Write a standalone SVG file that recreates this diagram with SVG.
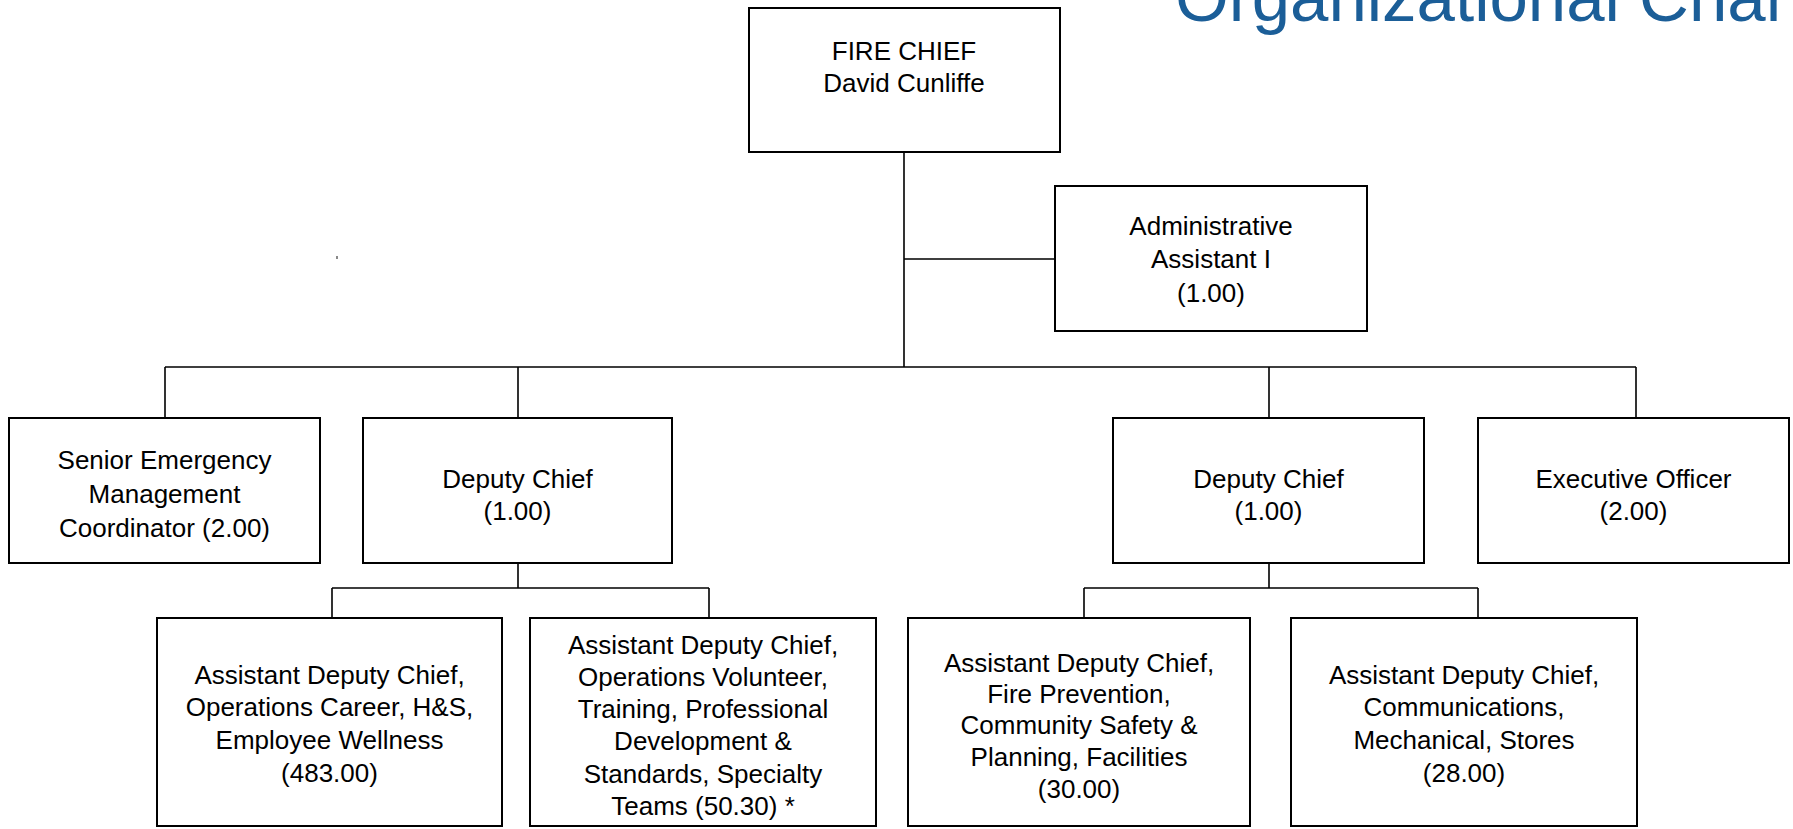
<svg xmlns="http://www.w3.org/2000/svg" width="1793" height="829" viewBox="0 0 1793 829">
<style>
.box{fill:#fff;stroke:#000;stroke-width:2}
.t{font-family:"Liberation Sans",Arial,sans-serif;font-size:26px;fill:#000;text-anchor:middle}
.c{fill:none;stroke:#000;stroke-width:1.6}
.title{font-family:"Liberation Sans",Arial,sans-serif;font-size:69px;fill:#1b5e98}
</style>
<rect width="1793" height="829" fill="#fff"/>
<text class="title" x="1175" y="21">Organizational Chart</text>
<rect x="336" y="256" width="2" height="3" fill="#8a8a8a"/>
<g id="connectors">
<path class="c" d="M904 152V367M904 259H1055M165 367H1636M165 367V418M518 367V418M1269 367V418M1636 367V418M518 563V588M332 588H709M332 588V618M709 588V618M1269 563V588M1084 588H1478M1084 588V618M1478 588V618"/>
</g>
<g id="fire-chief">
<rect class="box" x="749" y="8" width="311" height="144"/>
<text class="t" x="904" y="60">FIRE CHIEF</text>
<text class="t" x="904" y="92">David Cunliffe</text>
</g>
<g id="admin-assistant">
<rect class="box" x="1055" y="186" width="312" height="145"/>
<text class="t" x="1211" y="235">Administrative</text>
<text class="t" x="1211" y="268">Assistant I</text>
<text class="t" x="1211" y="302">(1.00)</text>
</g>
<g id="senior-emergency">
<rect class="box" x="9" y="418" width="311" height="145"/>
<text class="t" x="164.5" y="469">Senior Emergency</text>
<text class="t" x="164.5" y="503">Management</text>
<text class="t" x="164.5" y="537">Coordinator (2.00)</text>
</g>
<g id="deputy-chief-left">
<rect class="box" x="363" y="418" width="309" height="145"/>
<text class="t" x="517.5" y="488">Deputy Chief</text>
<text class="t" x="517.5" y="520">(1.00)</text>
</g>
<g id="deputy-chief-right">
<rect class="box" x="1113" y="418" width="311" height="145"/>
<text class="t" x="1268.5" y="488">Deputy Chief</text>
<text class="t" x="1268.5" y="520">(1.00)</text>
</g>
<g id="executive-officer">
<rect class="box" x="1478" y="418" width="311" height="145"/>
<text class="t" x="1633.5" y="488">Executive Officer</text>
<text class="t" x="1633.5" y="520">(2.00)</text>
</g>
<g id="adc-operations-career">
<rect class="box" x="157" y="618" width="345" height="208"/>
<text class="t" x="329.5" y="684">Assistant Deputy Chief,</text>
<text class="t" x="329.5" y="716">Operations Career, H&amp;S,</text>
<text class="t" x="329.5" y="749">Employee Wellness</text>
<text class="t" x="329.5" y="782">(483.00)</text>
</g>
<g id="adc-operations-volunteer">
<rect class="box" x="530" y="618" width="346" height="208"/>
<text class="t" x="703" y="654">Assistant Deputy Chief,</text>
<text class="t" x="703" y="686">Operations Volunteer,</text>
<text class="t" x="703" y="718">Training, Professional</text>
<text class="t" x="703" y="750">Development &amp;</text>
<text class="t" x="703" y="783">Standards, Specialty</text>
<text class="t" x="703" y="815">Teams (50.30) *</text>
</g>
<g id="adc-fire-prevention">
<rect class="box" x="908" y="618" width="342" height="208"/>
<text class="t" x="1079" y="672">Assistant Deputy Chief,</text>
<text class="t" x="1079" y="703">Fire Prevention,</text>
<text class="t" x="1079" y="734">Community Safety &amp;</text>
<text class="t" x="1079" y="766">Planning, Facilities</text>
<text class="t" x="1079" y="798">(30.00)</text>
</g>
<g id="adc-communications">
<rect class="box" x="1291" y="618" width="346" height="208"/>
<text class="t" x="1464" y="684">Assistant Deputy Chief,</text>
<text class="t" x="1464" y="716">Communications,</text>
<text class="t" x="1464" y="749">Mechanical, Stores</text>
<text class="t" x="1464" y="782">(28.00)</text>
</g>
</svg>
